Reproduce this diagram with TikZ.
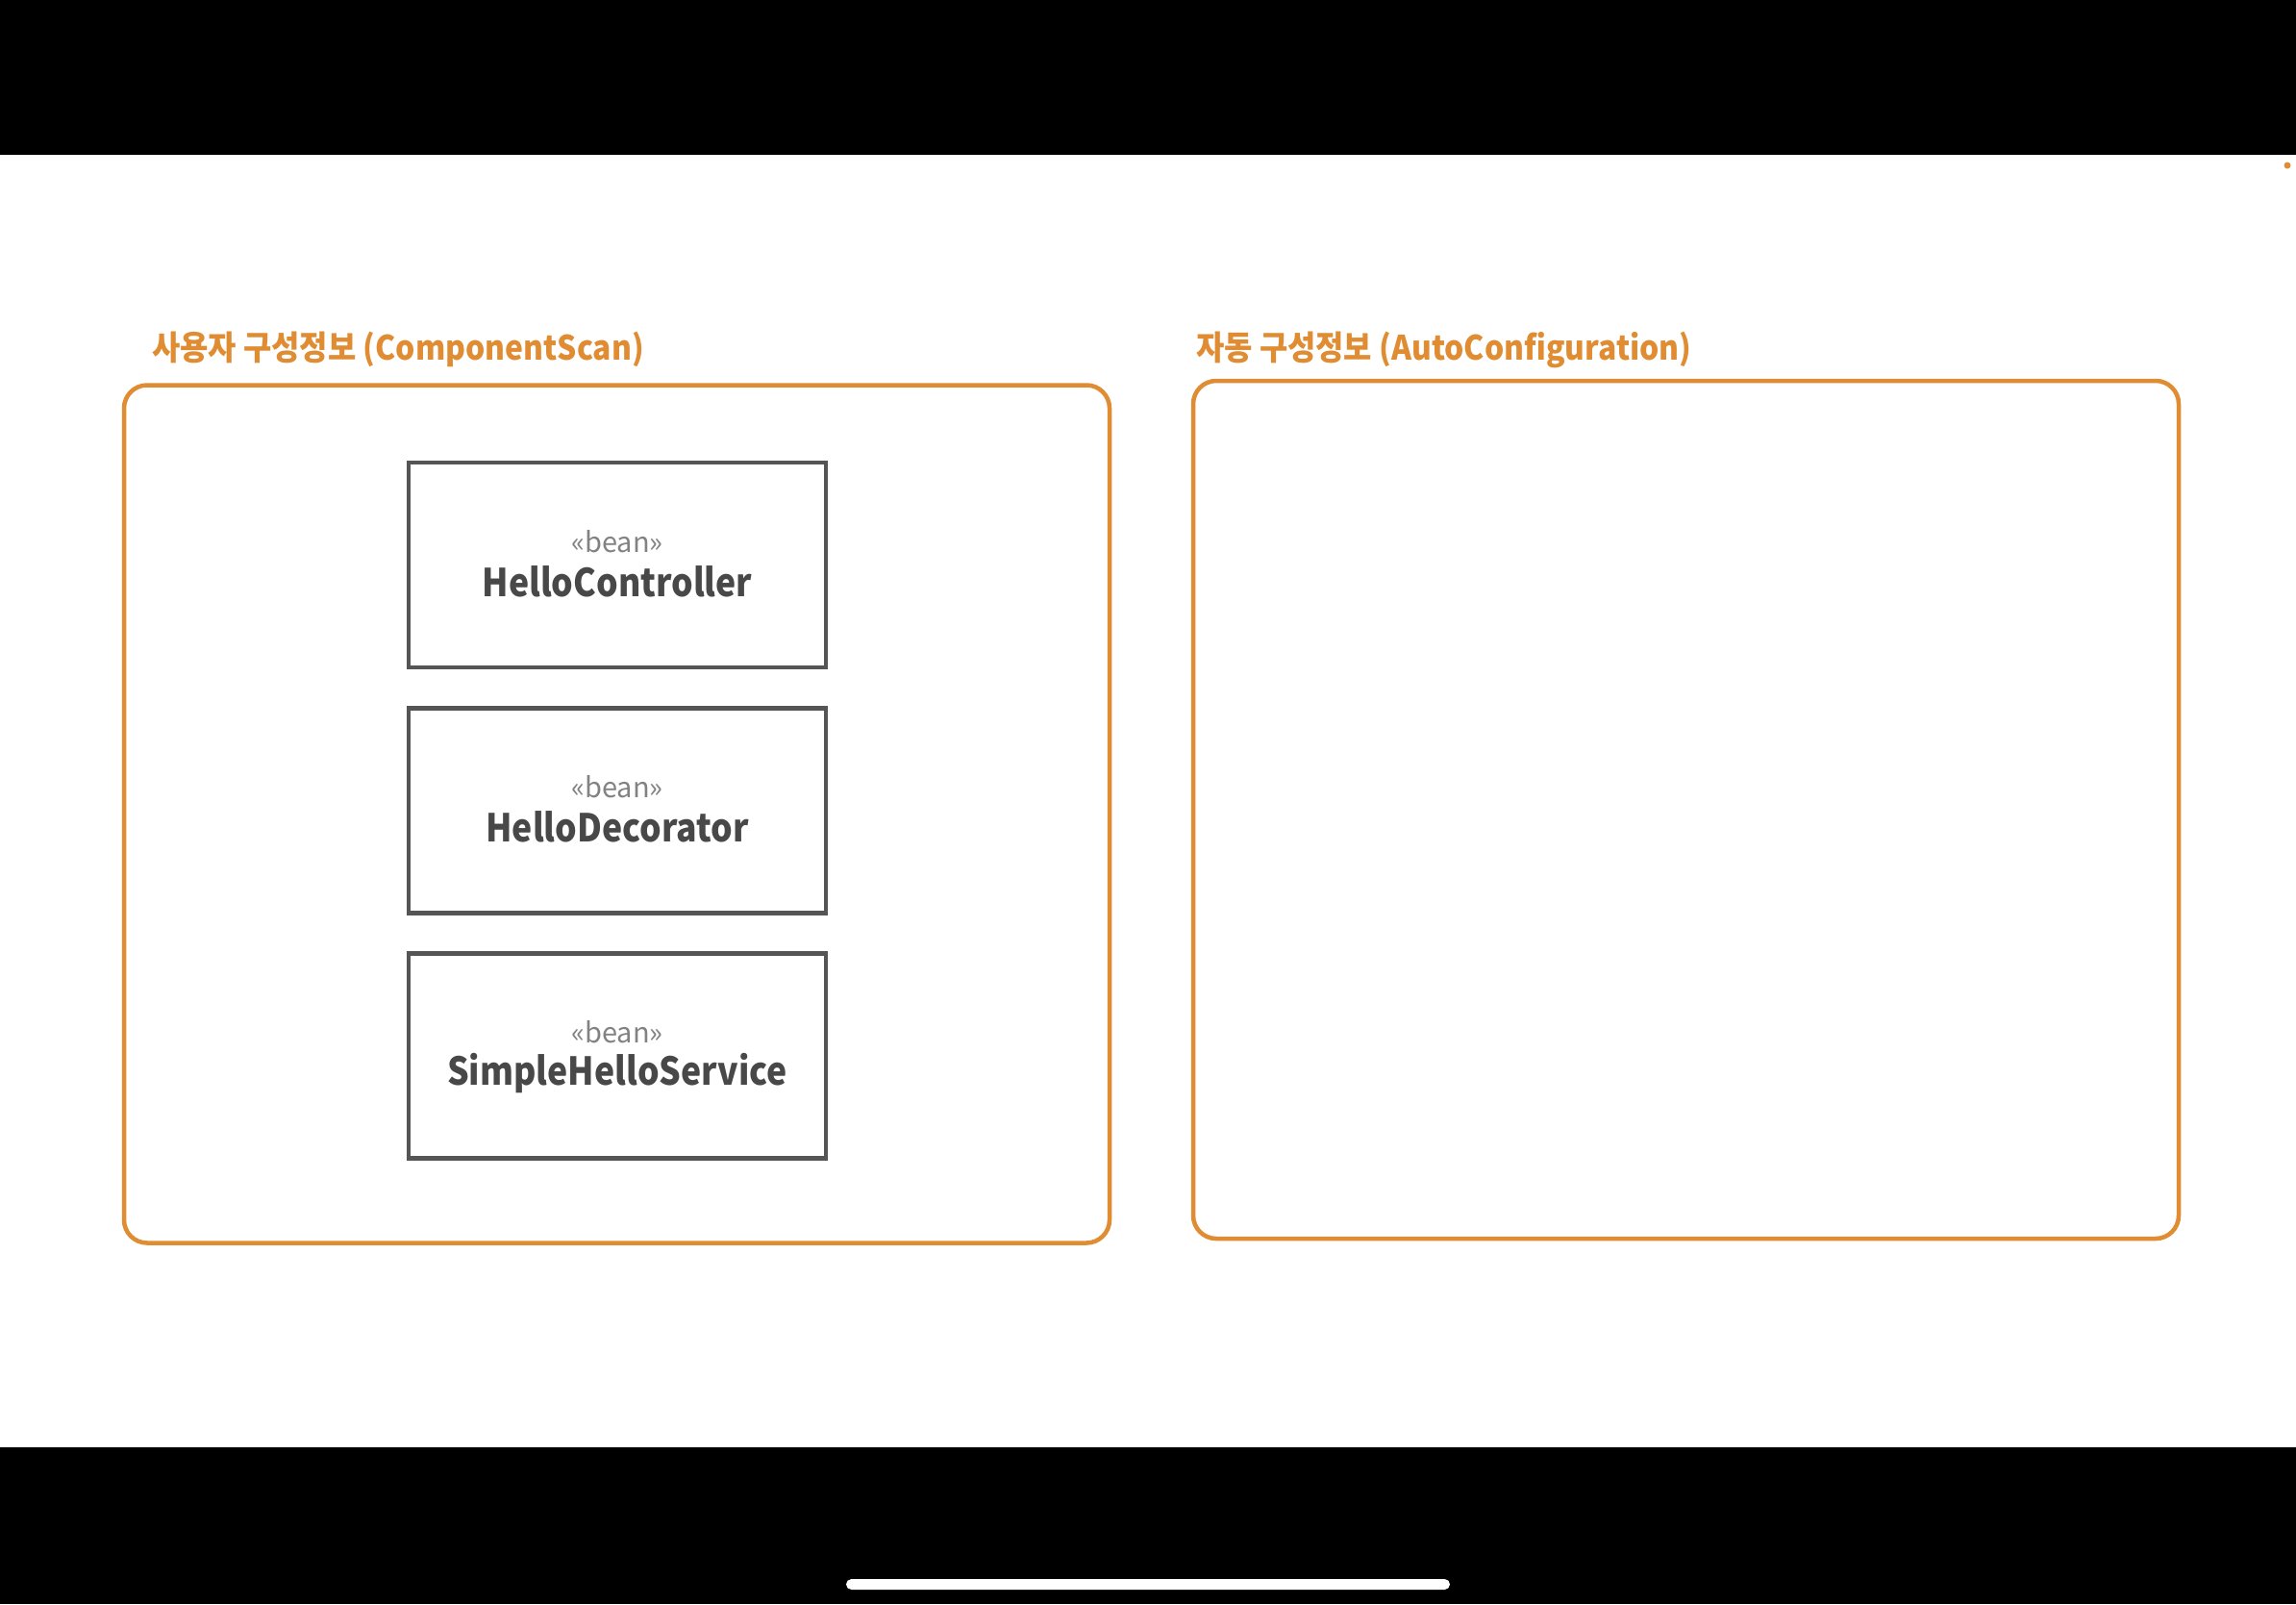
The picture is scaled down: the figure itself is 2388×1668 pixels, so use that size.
\documentclass[tikz,border=0pt]{standalone}
\usepackage{fontspec}
\setmainfont{Noto Sans CJK KR}
\newfontfamily\kr{Noto Sans CJK KR}
\newfontfamily\krtitle[FakeStretch=0.91]{Noto Sans CJK KR}
\newfontfamily\krname[FakeStretch=0.89]{Noto Sans CJK KR}
\definecolor{orng}{RGB}{224,140,50}
\definecolor{boxgray}{RGB}{85,85,85}
\definecolor{txtgray}{RGB}{72,72,72}
\definecolor{lightgray}{RGB}{130,130,130}
\begin{document}
\begin{tikzpicture}[x=1pt,y=-1pt,
  container/.style={draw=orng,line width=4.5pt,rounded corners=24pt,minimum width=1025pt,minimum height=892pt,inner sep=0pt},
  beanbox/.style={draw=boxgray,line width=4.5pt,minimum width=434pt,minimum height=213pt,inner sep=0pt},
  title/.style={text=orng,font=\krtitle\bfseries\fontsize{35}{40}\selectfont,anchor=base west,inner sep=0pt},
  stereo/.style={text=lightgray,font=\kr\fontsize{29}{32}\selectfont,inner sep=0pt},
  beanname/.style={text=txtgray,font=\krname\bfseries\fontsize{40}{44}\selectfont,inner sep=0pt}]
\useasboundingbox (0,0) rectangle (2388,1668);
\fill[black] (0,0) rectangle (2388,161);
\fill[black] (0,1505) rectangle (2388,1668);
\fill[white] (0,161) rectangle (2388,1505);
\fill[white,rounded corners=5.5pt] (880,1642) rectangle (1508,1653);
\fill[orng] (2379,172) circle (3.5);
% containers
\node[container] (user) at (641.5,846.5) {};
\node[container] (auto) at (1753.5,842) {};
\node[title] (usertitle) at (158,374) {사용자 구성정보 (ComponentScan)};
\node[title] (autotitle) at (1244,374) {자동 구성정보 (AutoConfiguration)};
% beans
\node[beanbox] (ctrl) at (642,587.5) {};
\node[stereo] at (642,563) {«bean»};
\node[beanname] at (642,605) {HelloController};
\node[beanbox] (deco) at (642,843) {};
\node[stereo] at (642,818) {«bean»};
\node[beanname] at (642,860) {HelloDecorator};
\node[beanbox] (svc) at (642,1098) {};
\node[stereo] at (642,1073) {«bean»};
\node[beanname] at (642,1116) {SimpleHelloService};
\end{tikzpicture}
\end{document}
